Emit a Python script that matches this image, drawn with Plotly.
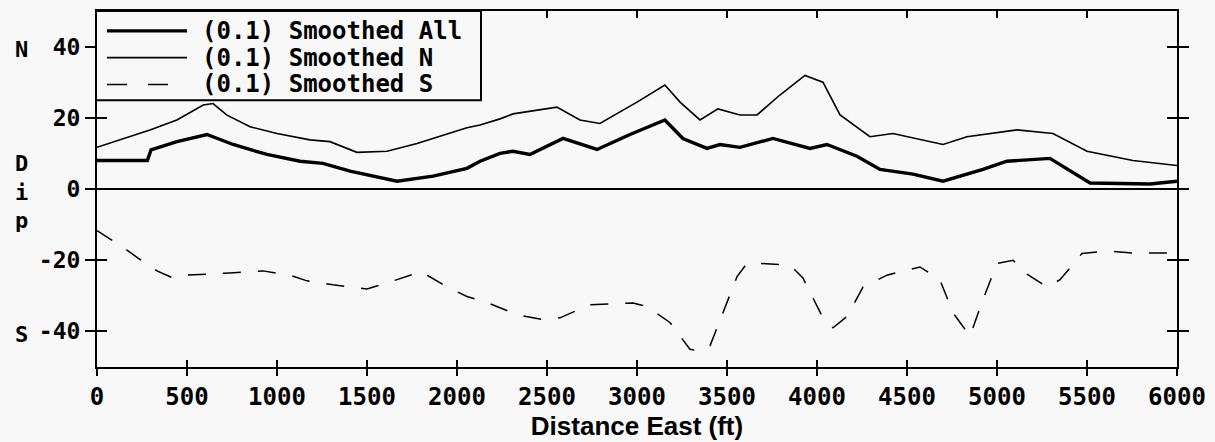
import plotly.graph_objects as go

# ---- data ----
x_all = [0, 280, 300, 444, 611, 756, 944, 1128, 1255, 1406, 1667, 1867, 2055, 2128, 2239,
         2311, 2405, 2589, 2778, 2961, 3155, 3255, 3389, 3461, 3572, 3755, 3961, 4055, 4222,
         4350, 4533, 4700, 4922, 5055, 5294, 5517, 5850, 6000]
y_all = [8, 8, 11, 13.3, 15.3, 12.5, 9.7, 7.8, 7.2, 5, 2.2, 3.6, 5.8, 7.8, 10,
         10.6, 9.7, 14.2, 11.1, 15.3, 19.4, 14.2, 11.4, 12.5, 11.7, 14.2, 11.4, 12.5, 9.2,
         5.5, 4.2, 2.2, 5.5, 7.8, 8.6, 1.7, 1.4, 2.2]

x_n = [0, 294, 444, 590, 645, 720, 850, 1000, 1183, 1294, 1444, 1611, 1778, 2055, 2128, 2239,
       2311, 2555, 2683, 2794, 3000, 3155, 3239, 3350, 3450, 3572, 3667, 3794, 3933, 4033,
       4128, 4294, 4422, 4700, 4833, 5111, 5311, 5500, 5755, 6000]
y_n = [11.7, 16.6, 19.4, 23.6, 24, 20.8, 17.5, 15.6, 13.8, 13.3, 10.3, 10.6, 12.8, 17.2, 18, 19.7,
       21.1, 23, 19.4, 18.4, 24.4, 29.2, 24.4, 19.4, 22.5, 20.8, 20.8, 26.4, 31.9, 30,
       20.8, 14.7, 15.6, 12.5, 14.7, 16.6, 15.6, 10.6, 8, 6.6]

x_s = [0, 128, 228, 333, 422, 500, 739, 922, 1072, 1167, 1311, 1500, 1611, 1800, 1944, 2055,
       2167, 2333, 2478, 2572, 2739, 2978, 3055, 3183, 3294, 3350, 3406, 3478, 3556, 3611,
       3683, 3850, 3922, 4033, 4089, 4167, 4256, 4389, 4572, 4683, 4756, 4850, 4922, 5000,
       5089, 5167, 5278, 5350, 5472, 5611, 5755, 6000]
y_s = [-11.7, -15.8, -19.4, -23, -25, -24.2, -23.6, -23, -24.2, -25.8, -26.9, -28.1, -26.4, -23.2, -27.5, -30.2,
       -31.9, -35.3, -36.7, -36.2, -32.5, -32, -33, -37.5, -45, -45.6, -44, -34.8, -24.6, -20.9,
       -20.9, -21.4, -25, -36.2, -39, -35.8, -27.5, -24.2, -21.9, -25.5, -34.8, -41.3, -31.1, -20.9,
       -20, -23.9, -27.5, -25.5, -18.1, -17.4, -18, -18]

names = ["(0.1) Smoothed All", "(0.1) Smoothed N", "(0.1) Smoothed S"]
x_ticks = list(range(0, 6001, 500))
y_ticks = [-40, -20, 0, 20, 40]
y_ticklabels = ["-40", "-20", "0", "20", "40"]

BG = "#f8f8f8"
MONO = "DejaVu Sans Mono"

# plot-area geometry (pixels) used to place the hand-drawn legend / side letters
L, R, T, B = 97, 1177, 9, 368
def px(xp):
    return (xp - L) / (R - L)
def py(yp):
    return (B - yp) / (B - T)

styles = [dict(color="black", width=3.4),
          dict(color="black", width=1.6),
          dict(color="black", width=1.5, dash="18px,17px")]

fig = go.Figure()
for xs, ys, nm, st in zip([x_all, x_n, x_s], [y_all, y_n, y_s], names, styles):
    fig.add_trace(go.Scatter(x=xs, y=ys, mode="lines", name=nm, line=st,
                             showlegend=False))
# helper trace so the overlay axes (crossing tick marks) are drawn
fig.add_trace(go.Scatter(x=[], y=[], xaxis="x2", yaxis="y2", showlegend=False))

fig.update_layout(
    width=1215, height=442,
    margin=dict(l=L, r=1215 - R, t=T, b=442 - B),
    paper_bgcolor=BG, plot_bgcolor=BG,
    showlegend=False,
    xaxis=dict(range=[0, 6000], tickvals=x_ticks, ticks="outside", ticklen=7,
               tickwidth=2, tickcolor="black", showline=True, linewidth=2,
               linecolor="black", showgrid=False, zeroline=False,
               tickfont=dict(family=MONO, size=24, color="black", weight="bold"),
               title=dict(text="Distance East (ft)", standoff=4,
                          font=dict(family="Liberation Sans", size=26, color="black",
                                    weight="bold"))),
    yaxis=dict(range=[-50, 50], tickvals=y_ticks, ticktext=y_ticklabels,
               ticks="outside", ticklen=10, tickwidth=2, tickcolor="black",
               mirror="ticks", showline=True, linewidth=2, linecolor="black",
               showgrid=False, zeroline=True, zerolinewidth=2, zerolinecolor="black",
               tickfont=dict(family=MONO, size=23, color="black", weight="bold")),
    xaxis2=dict(range=[0, 6000], overlaying="x", anchor="y", side="bottom",
                tickvals=x_ticks, ticks="inside", ticklen=7, tickwidth=2,
                tickcolor="black", mirror="ticks", showline=True, linewidth=2,
                linecolor="black", showticklabels=False, showgrid=False, zeroline=False),
    yaxis2=dict(range=[-50, 50], overlaying="y", anchor="x", side="left",
                tickvals=y_ticks, ticks="inside", ticklen=10, tickwidth=2,
                tickcolor="black", mirror="ticks", showline=True, linewidth=2,
                linecolor="black", showticklabels=False, showgrid=False, zeroline=False),
)

# legend box
fig.add_shape(type="rect", xref="paper", yref="paper",
              x0=px(96), x1=px(481), y0=py(99), y1=py(T),
              line=dict(color="black", width=2), fillcolor=BG, layer="above")
rows = [29, 56, 83]
for nm, st, yr in zip(names, styles, rows):
    fig.add_shape(type="line", xref="paper", yref="paper",
                  x0=px(107), x1=px(187 if "dash" not in st else 168),
                  y0=py(yr), y1=py(yr),
                  line=dict(color=st["color"], width=st["width"],
                            dash=("20px,21px" if "dash" in st else "solid")),
                  layer="above")
    fig.add_annotation(text=nm, xref="paper", yref="paper", x=px(201), y=py(yr),
                       xanchor="left", yanchor="middle", showarrow=False,
                       height=26, valign="middle", borderpad=0,
                       font=dict(family=MONO, size=24, color="black", weight="bold"))

letters = [("N", 48), ("D", 163), ("i", 192), ("p", 220), ("S", 335)]
for txt, ypx in letters:
    fig.add_annotation(text=txt, xref="paper", yref="paper",
                       x=px(21), y=py(ypx),
                       xanchor="center", yanchor="middle", showarrow=False,
                       font=dict(family=MONO, size=22, color="black", weight="bold"))

fig.write_html("out.html")
